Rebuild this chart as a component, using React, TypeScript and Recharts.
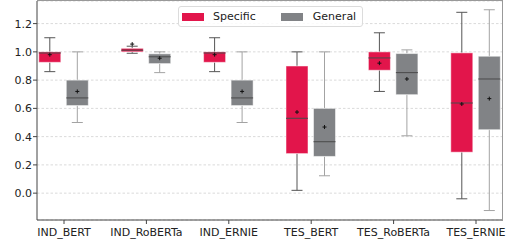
import React from 'react';
import { ComposedChart, Bar, XAxis, YAxis, CartesianGrid } from 'recharts';

const categories = ['IND_BERT', 'IND_RoBERTa', 'IND_ERNIE', 'TES_BERT', 'TES_RoBERTa', 'TES_ERNIE'];

// Specific: five-number summary + mean
const specMin = [0.86, 0.99, 0.86, 0.02, 0.72, -0.04];
const specQ1 = [0.926, 1.0, 0.926, 0.28, 0.87, 0.29];
const specMedian = [0.992, 1.012, 0.992, 0.53, 0.957, 0.638];
const specQ3 = [1.0, 1.025, 1.0, 0.9, 1.0, 0.993];
const specMax = [1.1, 1.04, 1.1, 1.0, 1.135, 1.28];
const specMean = [0.98, 1.055, 0.98, 0.574, 0.92, 0.631];

// General
const genMin = [0.5, 0.853, 0.5, 0.123, 0.406, -0.123];
const genQ1 = [0.62, 0.917, 0.62, 0.26, 0.697, 0.449];
const genMedian = [0.674, 0.965, 0.674, 0.364, 0.853, 0.808];
const genQ3 = [0.8, 0.986, 0.8, 0.6, 0.988, 0.969];
const genMax = [1.0, 1.0, 1.0, 1.0, 1.014, 1.298];
const genMean = [0.72, 0.955, 0.72, 0.468, 0.808, 0.669];

const yTicks = [0, 0.2, 0.4, 0.6, 0.8, 1.0, 1.2];

const SPEC_COLOR = '#e2154b';
const GEN_COLOR = '#818386';

const data = categories.map((name, i) => ({
  name,
  s: { min: specMin[i], q1: specQ1[i], med: specMedian[i], q3: specQ3[i], max: specMax[i], mean: specMean[i] },
  g: { min: genMin[i], q1: genQ1[i], med: genMedian[i], q3: genQ3[i], max: genMax[i], mean: genMean[i] },
}));

const makeBox = (key: 's' | 'g', fill: string, whisker: string) => (props: any) => {
  const { x, y, width, height, payload } = props;
  const st = payload[key];
  const top = Math.min(y, y + height);
  const bottom = Math.max(y, y + height);
  // pixel position of a value, from the bar's own (scaled) min..max extent
  const pix = (v: number) => top + ((st.max - v) / (st.max - st.min)) * (bottom - top);
  const cx = x + width / 2;
  const cap = width / 4;
  const yq1 = pix(st.q1);
  const yq3 = pix(st.q3);
  const ym = pix(st.mean);
  return (
    <g>
      <line x1={cx} x2={cx} y1={top} y2={yq3} stroke={whisker} strokeWidth={1} />
      <line x1={cx} x2={cx} y1={yq1} y2={bottom} stroke={whisker} strokeWidth={1} />
      <line x1={cx - cap} x2={cx + cap} y1={top} y2={top} stroke={whisker} strokeWidth={1} />
      <line x1={cx - cap} x2={cx + cap} y1={bottom} y2={bottom} stroke={whisker} strokeWidth={1} />
      <rect x={x} y={yq3} width={width} height={yq1 - yq3} fill={fill} stroke="#ffffff" strokeOpacity={0.5} strokeWidth={1} />
      <line x1={x} x2={x + width} y1={pix(st.med)} y2={pix(st.med)} stroke="#4a4a4a" strokeWidth={1} />
      <path d={`M${cx - 2},${ym}H${cx + 2}M${cx},${ym - 2}V${ym + 2}`} stroke="#111" strokeWidth={1} />
    </g>
  );
};

const LegendBox = () => (
  <div
    style={{
      position: 'absolute',
      top: 6,
      left: 178,
      display: 'flex',
      alignItems: 'center',
      width: 183,
      height: 19,
      border: '1px solid #dcdcdc',
      borderRadius: 3,
      background: 'rgba(255,255,255,0.85)',
      fontFamily: 'DejaVu Sans',
      fontSize: 11,
      color: '#222',
    }}
  >
    <span style={{ display: 'inline-block', width: 22, height: 8, background: SPEC_COLOR, marginLeft: 3 }} />
    <span style={{ marginLeft: 9 }}>Specific</span>
    <span style={{ display: 'inline-block', width: 22, height: 8, background: GEN_COLOR, marginLeft: 25 }} />
    <span style={{ marginLeft: 10 }}>General</span>
  </div>
);

const App: React.FC = () => {
  const tickStyle = { fontSize: 11, fontFamily: 'DejaVu Sans', fill: '#222' };
  return (
    <div style={{ position: 'relative', width: 508, height: 242 }}>
      <style>{'body{margin:0}'}</style>
      <ComposedChart
        width={508}
        height={242}
        data={data}
        margin={{ top: 1, right: 5, left: 0, bottom: 0 }}
        barSize={22}
        barGap={5.5}
      >
        <CartesianGrid vertical={false} stroke="#dadada" strokeDasharray="2.5 2" />
        <XAxis
          dataKey="name"
          height={22}
          padding={{ left: -14.2, right: -14.2 }}
          tick={tickStyle}
          tickSize={4}
          tickMargin={4}
          stroke="#444"
          interval={0}
        />
        <YAxis
          type="number"
          domain={[-0.19, 1.36]}
          ticks={yTicks}
          allowDataOverflow
          width={37}
          tick={tickStyle}
          tickSize={4}
          tickMargin={1}
          tickFormatter={(v: number) => v.toFixed(1)}
          stroke="#444"
        />
        <Bar
          dataKey={(d: any) => [d.s.min, d.s.max]}
          name="Specific"
          fill={SPEC_COLOR}
          shape={makeBox('s', SPEC_COLOR, '#555555')}
          isAnimationActive={false}
        />
        <Bar
          dataKey={(d: any) => [d.g.min, d.g.max]}
          name="General"
          fill={GEN_COLOR}
          shape={makeBox('g', GEN_COLOR, '#a3a3a3')}
          isAnimationActive={false}
        />
      </ComposedChart>
      {/* top/right frame of the plot area */}
      <div
        style={{
          position: 'absolute',
          left: 37,
          top: 0,
          width: 466,
          height: 220,
          borderTop: '1px solid #999',
          borderRight: '1px solid #999',
          boxSizing: 'border-box',
          pointerEvents: 'none',
        }}
      />
      <LegendBox />
    </div>
  );
};

export default App;
